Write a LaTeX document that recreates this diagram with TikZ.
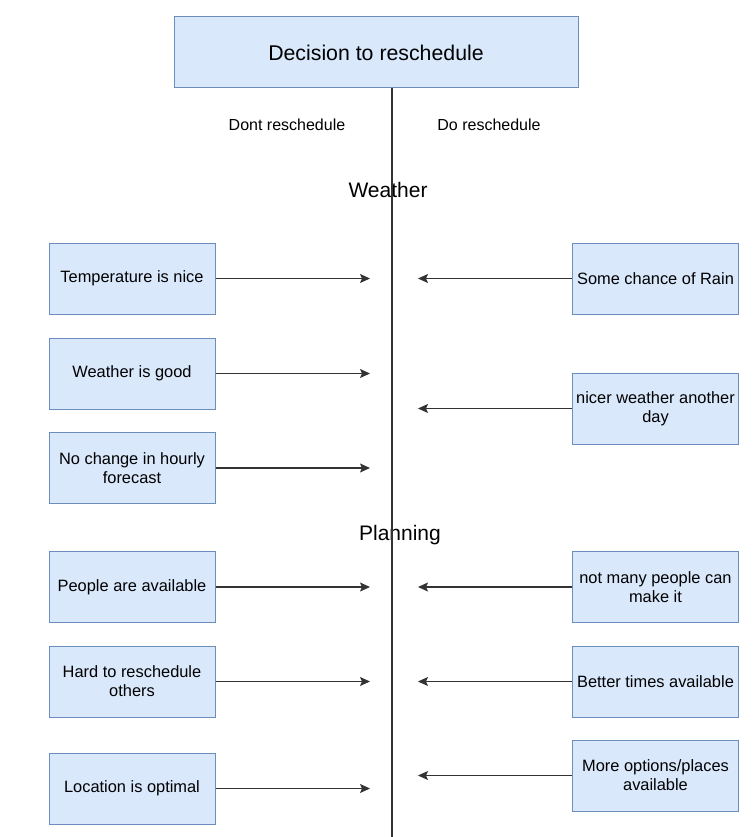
\documentclass[tikz,border=0pt]{standalone}
\usepackage{fontspec}
\setmainfont{Liberation Sans}
\usetikzlibrary{arrows.meta,positioning}
\definecolor{boxfill}{HTML}{DAE8FC}
\definecolor{boxline}{HTML}{6C8EBF}

\begin{document}
\begin{tikzpicture}[x=1pt,y=-1pt,
    reason/.style={draw=boxline, fill=boxfill, line width=1pt, minimum width=166pt, minimum height=71pt,
        inner sep=1pt, align=center, font=\fontsize{16.4}{19}\selectfont},
    side/.style={font=\fontsize{16}{19}\selectfont},
    topic/.style={font=\fontsize{21}{25}\selectfont},
    pointer/.style={draw=black!80, line width=1.3pt, -{Stealth[length=10pt,width=9pt,inset=2pt]}}
]
\useasboundingbox (0,0) rectangle (753,837);

\node[reason, minimum width=404pt, font=\fontsize{21.3}{25}\selectfont] (title) at (376,52.5) {Decision to reschedule};

\coordinate (spineend) at (392,837);
\coordinate (leftstop) at (370,0);
\coordinate (rightstop) at (418,0);

\node[side] (dont) at (287,125) {Dont reschedule};
\node[side] (do) at (489,125) {Do reschedule};
\node[topic] (weather) at (388,190) {Weather};
\node[topic] (planning) at (400,535) {Planning};

\draw[black!80, line width=1.3pt] (title.south -| spineend) -- (spineend);

% dont reschedule
\node[reason] (temp) at (132,278.5) {Temperature is nice};
\node[reason] (good) at (132,373.5) {Weather is good};
\node[reason] (hourly) at (132,468) {No change in hourly\\forecast};
\node[reason] (people) at (132,587) {People are available};
\node[reason] (others) at (132,681.5) {Hard to reschedule\\others};
\node[reason] (location) at (132,788.5) {Location is optimal};

% do reschedule
\node[reason] (rain) at (655.5,278.5) {Some chance of Rain};
\node[reason] (nicer) at (655.5,408.5) {nicer weather another\\day};
\node[reason] (few) at (655.5,587) {not many people can\\make it};
\node[reason] (times) at (655.5,681.5) {Better times available};
\node[reason] (options) at (655.5,775.5) {More options/places\\available};

\foreach \n in {temp,good,hourly,people,others,location}
    \draw[pointer] (\n.east) -- (\n.east -| leftstop);
\foreach \n in {rain,nicer,few,times,options}
    \draw[pointer] (\n.west) -- (\n.west -| rightstop);
\end{tikzpicture}
\end{document}
